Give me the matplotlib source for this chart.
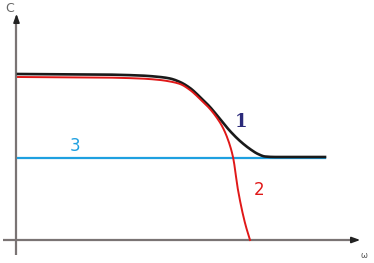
import numpy as np
import matplotlib
matplotlib.use("Agg")
import matplotlib.pyplot as plt

# Data (x: frequency units, y: C units), origin at axes crossing
curve1_x = [2, 84, 124, 144, 154, 164, 174, 184, 194, 204, 214, 224, 234, 242, 249, 259, 284, 309]
curve1_y = [166, 165.5, 164.5, 163, 161.5, 158, 152, 143, 133, 121, 109, 99, 91, 86, 83.5, 83, 83, 83]
curve2_x = [2, 84, 124, 144, 154, 164, 174, 184, 194, 201, 206, 211, 217, 222, 229, 234]
curve2_y = [163, 162.5, 161.5, 160, 158.5, 156, 150, 141, 131, 122, 114, 103, 83, 50, 17, 0]
line3_x = [2, 309]
line3_y = [82, 82]


def pchip(x, y, n=400):
    x = np.asarray(x, float)
    y = np.asarray(y, float)
    h = np.diff(x)
    d = np.diff(y) / h
    m = np.zeros_like(y)
    for k in range(1, len(x) - 1):
        if d[k - 1] * d[k] <= 0:
            m[k] = 0
        else:
            w1 = 2 * h[k] + h[k - 1]
            w2 = h[k] + 2 * h[k - 1]
            m[k] = (w1 + w2) / (w1 / d[k - 1] + w2 / d[k])
    m[0] = d[0]
    m[-1] = d[-1]
    xs = np.linspace(x[0], x[-1], n)
    idx = np.clip(np.searchsorted(x, xs) - 1, 0, len(x) - 2)
    t = (xs - x[idx]) / h[idx]
    h00 = 2 * t**3 - 3 * t**2 + 1
    h10 = t**3 - 2 * t**2 + t
    h01 = -2 * t**3 + 3 * t**2
    h11 = t**3 - t**2
    ys = h00 * y[idx] + h10 * h[idx] * m[idx] + h01 * y[idx + 1] + h11 * h[idx] * m[idx + 1]
    return xs, ys


fig = plt.figure(figsize=(3.74, 2.63), dpi=100)
ax = fig.add_axes([0, 0, 1, 1])
ax.set_xlim(-16, 358)
ax.set_ylim(-23, 240)
ax.axis("off")

axis_color = "#7a7474"
ax.plot([-13, 340], [0, 0], color=axis_color, lw=1.6, solid_capstyle="butt")
ax.plot([0.5, 0.5], [-15, 220], color=axis_color, lw=1.6, solid_capstyle="butt")
ax.annotate("", xy=(347, 0), xytext=(335, 0),
            arrowprops=dict(arrowstyle="-|>,head_length=0.5,head_width=0.18", color="#222222", lw=1.2))
ax.annotate("", xy=(0.5, 229), xytext=(0.5, 217),
            arrowprops=dict(arrowstyle="-|>,head_length=0.5,head_width=0.18", color="#222222", lw=1.2))

ax.plot(line3_x, line3_y, color="#1ea0e0", lw=1.6)
x1, y1 = pchip(curve1_x, curve1_y)
ax.plot(x1, y1, color="#1a1a1a", lw=1.9)
x2, y2 = pchip(curve2_x, curve2_y)
ax.plot(x2, y2, color="#e01818", lw=1.4)

ax.text(-6, 231, "C", fontsize=9, color="#666666", ha="center", va="center", family="Liberation Sans Narrow")
ax.text(348, -15, "ω", fontsize=6, color="#555555", ha="center", va="center")
ax.text(225, 118, "1", fontsize=13, fontweight="bold", color="#2b2a7a", ha="center", va="center",
        family="DejaVu Serif")
ax.text(243, 50, "2", fontsize=12, color="#e01818", ha="center", va="center")
ax.text(59, 94, "3", fontsize=12, color="#1ea0e0", ha="center", va="center")

fig.savefig("out.png", dpi=100)
